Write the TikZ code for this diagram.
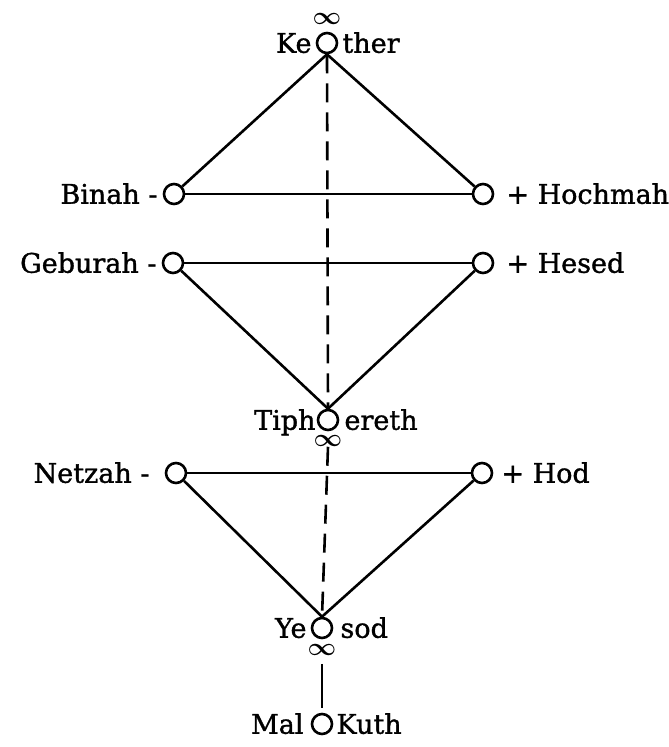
\documentclass[tikz,border=0pt]{standalone}
\usepackage{fontspec}
\setmainfont{DejaVu Serif}[FakeBold=1.2]
\usetikzlibrary{positioning}

\begin{document}
\begin{tikzpicture}[x=1pt, y=1pt,
  sefira/.style={draw, circle, line width=2.6pt, minimum size=20pt, inner sep=0pt},
  lbl/.style={font=\fontsize{27}{30}\selectfont, inner sep=0pt, text height=19.5pt, text depth=0pt},
  inf/.style={font=\fontsize{25}{25}\selectfont\boldmath, inner sep=0pt},
  bar/.style={line width=2.6pt},
  axis/.style={line width=2.6pt, dash pattern=on 19pt off 10pt},
]
\useasboundingbox (0,0) rectangle (669,-747);
% the sefirot
\node[sefira] (kether) at (327,-43) {};
\node[sefira] (binah) at (174,-194) {};
\node[sefira] (hochmah) at (483,-194) {};
\node[sefira] (geburah) at (173,-263) {};
\node[sefira] (hesed) at (483,-263) {};
\node[sefira] (tiphereth) at (328,-420) {};
\node[sefira] (netzah) at (176,-473) {};
\node[sefira] (hod) at (482,-473) {};
\node[sefira] (yesod) at (322,-628) {};
\node[sefira] (malkuth) at (322,-724) {};
% names
\node[lbl, left=4pt of kether] (ketherL) {Ke};
\node[lbl, right=4pt of kether] (ketherR) {ther};
\node[lbl, left=5pt of binah] (binahL) {Binah -};
\node[lbl, right=12pt of hochmah] (hochmahR) {+ Hochmah};
\node[lbl, left=5pt of geburah] (geburahL) {Geburah -};
\node[lbl, right=12pt of hesed] (hesedR) {+ Hesed};
\node[lbl, left=1pt of tiphereth] (tipherethL) {Tiph};
\node[lbl, right=5pt of tiphereth] (tipherethR) {ereth};
\node[lbl, left=15pt of netzah] (netzahL) {Netzah -};
\node[lbl, right=8pt of hod] (hodR) {+ Hod};
\node[lbl, left=4pt of yesod] (yesodL) {Ye};
\node[lbl, right=7pt of yesod] (yesodR) {sod};
\node[lbl, left=7pt of malkuth] (malkuthL) {Mal};
\node[lbl, right=3pt of malkuth] (malkuthR) {Kuth};
% infinity marks
\node[inf, above=7pt of kether] (kinf) {$\infty$};
\node[inf, below=4pt of tiphereth] (tinf) {$\infty$};
\node[inf, below=5pt of yesod] (yinf) {$\infty$};
% triangles
\draw[bar] (binah) -- (kether.south) -- (hochmah);
\draw[bar] (binah) -- (hochmah);
\draw[bar] (geburah) -- (hesed);
\draw[bar] (geburah) -- (tiphereth.north) -- (hesed);
\draw[bar] (netzah) -- (hod);
\draw[bar] (netzah) -- (yesod.north) -- (hod);
% middle pillar
\draw[axis] (kether.south) -- (tiphereth.north);
\draw[axis] (tinf.south) -- (yesod.north);
\draw[bar, shorten <=8pt, shorten >=5pt] (yinf.south) -- (malkuth.north);
\end{tikzpicture}
\end{document}
